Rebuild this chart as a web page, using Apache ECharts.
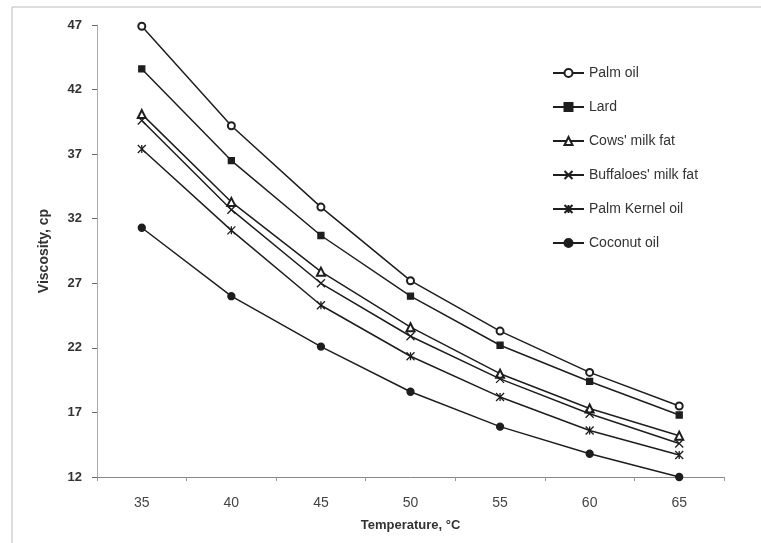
<!DOCTYPE html>
<html>
<head>
<meta charset="utf-8">
<script src="https://cdn.jsdelivr.net/npm/echarts@6/dist/echarts.min.js"></script>
<style>
    html, body { margin: 0; padding: 0; background: #fff; }
    #main { width: 761px; height: 543px; }
</style>
</head>
<body>
<div id="main"></div>
<script>
// 温度 (x 轴类目)
var temperatures = ['35', '40', '45', '50', '55', '60', '65'];

// 各油脂的粘度
var palmOil = [46.9, 39.2, 32.9, 27.2, 23.3, 20.1, 17.5];
var lard = [43.6, 36.5, 30.7, 26.0, 22.2, 19.4, 16.8];
var cowsMilkFat = [40.1, 33.3, 27.9, 23.6, 20.0, 17.3, 15.2];
var buffaloesMilkFat = [39.6, 32.7, 27.0, 22.9, 19.6, 16.9, 14.6];
var palmKernelOil = [37.4, 31.1, 25.3, 21.35, 18.2, 15.6, 13.7];
var coconutOil = [31.3, 26.0, 22.1, 18.6, 15.9, 13.8, 12.0];

// y 轴刻度
var yMin = 12, yMax = 47, yStep = 5;

var lineColor = '#1e1e1e';

// 自定义标记
var xMark = 'path://M0,0 L10,10 M10,0 L0,10';
var starMark = 'path://M0,0 L10,10 M10,0 L0,10 M5,0 L5,10';

var main = document.getElementById('main');
var chart = echarts.init(main);

function makeSeries(name, data, symbol, size) {
    return {
        name: name,
        type: 'line',
        data: data,
        symbol: symbol,
        symbolSize: size,
        showAllSymbol: true,
        lineStyle: { color: lineColor, width: 1.5 },
        itemStyle: {
            color: lineColor,
            borderColor: lineColor,
            borderWidth: 1.3
        },
        emphasis: { disabled: true },
        z: 3
    };
}

var option = {
    backgroundColor: '#fff',
    animation: false,
    graphic: [
        {
            // 外框
            type: 'rect',
            shape: { x: 12, y: 7, width: 760, height: 545 },
            style: { fill: 'none', stroke: '#bbb', lineWidth: 1 }
        }
    ],
    grid: {
        left: 97,
        right: 37,
        top: 25,
        bottom: 66
    },
    legend: {
        orient: 'vertical',
        left: 547,
        top: 61,
        itemWidth: 31,
        itemHeight: 10,
        itemGap: 20,
        textStyle: { fontFamily: 'Arial', fontSize: 14, color: '#333', height: 14 },
        data: ['Palm oil', 'Lard', 'Cows\' milk fat', 'Buffaloes\' milk fat', 'Palm Kernel oil', 'Coconut oil']
    },
    xAxis: {
        type: 'category',
        data: temperatures,
        boundaryGap: true,
        name: 'Temperature, \u00b0C',
        nameLocation: 'middle',
        nameGap: 42,
        nameTextStyle: { fontFamily: 'Arial', fontSize: 13, fontWeight: 'bold', color: '#333' },
        axisLine: { lineStyle: { color: '#888', width: 1 } },
        axisTick: { show: true, length: 4, lineStyle: { color: '#999' } },
        axisLabel: { fontFamily: 'Arial', fontSize: 14, color: '#444', margin: 19 },
        splitLine: { show: false }
    },
    yAxis: {
        type: 'value',
        min: yMin,
        max: yMax,
        interval: yStep,
        name: 'Viscosity, cp',
        nameLocation: 'middle',
        nameGap: 46,
        nameTextStyle: { fontFamily: 'Arial', fontSize: 14, fontWeight: 'bold', color: '#333' },
        axisLine: { show: true, lineStyle: { color: '#aaa', width: 1 } },
        axisTick: { show: true, length: 5, lineStyle: { color: '#666' } },
        axisLabel: { fontFamily: 'Arial', fontSize: 13, fontWeight: 'bold', color: '#333', margin: 15 },
        splitLine: { show: false }
    },
    series: [
        makeSeries('Palm oil', palmOil, 'emptyCircle', 7),
        makeSeries('Lard', lard, 'rect', 6),
        makeSeries('Cows\' milk fat', cowsMilkFat, 'emptyTriangle', 8),
        makeSeries('Buffaloes\' milk fat', buffaloesMilkFat, xMark, 8),
        makeSeries('Palm Kernel oil', palmKernelOil, starMark, 8),
        makeSeries('Coconut oil', coconutOil, 'circle', 7)
    ]
};

chart.setOption(option);
</script>
</body>
</html>
